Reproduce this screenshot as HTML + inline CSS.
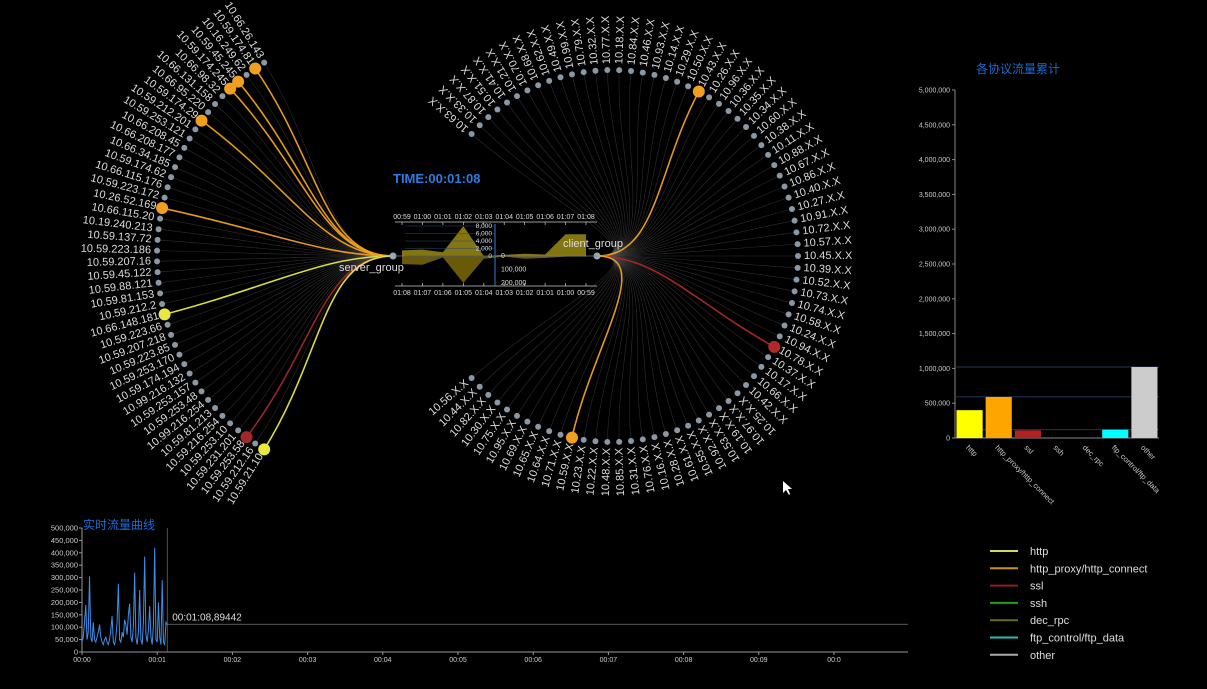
<!DOCTYPE html>
<html><head><meta charset="utf-8"><style>
html,body{margin:0;padding:0;background:#000;}
svg{display:block;font-family:"Liberation Sans","Noto Sans CJK SC",sans-serif;}
</style></head><body>
<svg id="s" width="1207" height="689" viewBox="0 0 1207 689">
<rect width="1207" height="689" fill="#000"/>
<g id="links"></g>
<g id="hl"></g>
<g id="rings"></g>
<g id="mini"></g>
<text x="393" y="183" fill="#2a7de1" font-size="13" font-weight="bold">TIME:00:01:08</text>
<text x="339" y="271" fill="#ddd" font-size="11">server_group</text>
<text x="563" y="247" fill="#ddd" font-size="11">client_group</text>
<g id="bar"></g>
<text x="976" y="73" fill="#1a6ad4" font-size="12">各协议流量累计</text>
<g id="line"></g>
<text x="83" y="529" fill="#1a6ad4" font-size="12">实时流量曲线</text>
<g id="legend"></g>
<polygon points="783,481 783,493 786,490 789,495 790,494 788,489 792,489" fill="#fff"/>
</svg>
<script>
// ---- data ----
const leftHosts=["10.66.26.143","10.59.174.81","10.16.249.62","10.59.45.245","10.59.174.245","10.66.98.32","10.66.131.158","10.66.95.220","10.59.174.29","10.59.212.201","10.59.253.121","10.66.208.45","10.66.208.177","10.66.34.185","10.59.174.62","10.66.115.176","10.59.223.172","10.26.52.169","10.66.115.20","10.19.240.213","10.59.137.72","10.59.223.186","10.59.207.16","10.59.45.122","10.59.88.121","10.59.81.153","10.59.212.2","10.66.148.181","10.59.223.66","10.59.207.218","10.59.223.85","10.59.253.170","10.59.174.194","10.99.216.132","10.59.253.157","10.59.253.48","10.99.216.254","10.59.81.213","10.59.216.254","10.59.253.10","10.59.231.201","10.59.253.58","10.59.212.16","10.59.21.10"];
const rightNums=[63,33,87,51,41,21,70,68,62,49,99,79,32,77,18,84,46,93,14,29,50,43,26,96,36,35,34,60,38,11,88,67,86,40,27,91,72,57,45,39,52,73,74,58,24,94,78,37,17,66,42,25,97,19,53,92,55,61,28,16,76,31,85,48,22,23,59,71,64,65,69,95,75,30,82,44,56];
const leftActive={1:"#f0a020",3:"#f0a020",4:"#f0a020",8:"#f0a020",17:"#f0a020",27:"#e8e840",41:"#a02828",43:"#e8e840"};
const rightActive={21:"#f0a020",46:"#b02828",66:"#f0a020"};
const protocols=["http","http_proxy/http_connect","ssl","ssh","dec_rpc","ftp_control/ftp_data","other"];
const totals=[400000,590000,110000,0,0,120000,1020000];
const barColors=["#ffff00","#ffa500","#b22222","#22aa22","#808020","#00ffff","#cccccc"];
const barTicks=[0,500000,1000000,1500000,2000000,2500000,3000000,3500000,4000000,4500000,5000000];
const legendColors=["#d8d860","#c8902a","#8b2020","#20a020","#6b6b20","#20c0c0","#aaaaaa"];
const traffic=[40,60,120,190,50,80,305,60,40,120,50,40,60,80,110,60,40,30,50,60,40,30,50,90,145,40,30,60,120,275,50,40,80,60,130,110,70,150,195,60,40,100,320,60,30,80,250,50,30,120,385,70,40,90,185,60,30,110,420,50,40,200,60,30,290,40,30,120,110];
const lineYTicks=[0,50000,100000,150000,200000,250000,300000,350000,400000,450000,500000];
const lineXTicks=["00:00","00:01","00:02","00:03","00:04","00:05","00:06","00:07","00:08","00:09","00:0"];
const miniTimesTop=["00:59","01:00","01:01","01:02","01:03","01:04","01:05","01:06","01:07","01:08"];
const miniTimesBottom=["01:08","01:07","01:06","01:05","01:04","01:03","01:02","01:01","01:00","00:59"];
const miniUp=[1500,1700,1000,8000,0,300,600,400,5800,5800];
const miniDown=[60000,65000,10000,200000,20000,5000,20000,15000,5000,5000];
const miniUpTicks=[0,2000,4000,6000,8000];
const miniDownTicks=[100000,200000];

const NS="http://www.w3.org/2000/svg";
function mk(tag,attrs,parent){const e=document.createElementNS(NS,tag);for(const k in attrs)e.setAttribute(k,attrs[k]);parent.appendChild(e);return e;}
const links=document.getElementById('links'),hl=document.getElementById('hl'),rings=document.getElementById('rings');
const rad=d=>d*Math.PI/180;

// left ring
const L={cx:385,cy:256,r:228,a0:238,a1:122,nx:393,ny:256};
leftHosts.forEach((h,i)=>{
  const th=L.a0+(L.a1-L.a0)*i/(leftHosts.length-1);
  const c=Math.cos(rad(th)),s=Math.sin(rad(th));
  const x=L.cx+L.r*c,y=L.cy+L.r*s;
  const c2x=L.cx+L.r*0.5*c,c2y=L.cy+L.r*0.5*s;
  const col=leftActive[i];
  const p=mk('path',{d:`M${L.nx},${L.ny} C${L.nx-70},${L.ny} ${c2x},${c2y} ${x},${y}`,fill:'none',stroke:col||'#5a5a5a','stroke-width':col?1.6:0.6,'stroke-opacity':col?0.95:0.5},col?hl:links);
  
  
  const d=mk('circle',{cx:x,cy:y,r:col?6:3,fill:col||'#8a98a6'},rings);
  
  
  const lx=L.cx+(L.r+6)*c,ly=L.cy+(L.r+6)*s;
  const t=mk('text',{x:lx,y:ly,'text-anchor':'end','dominant-baseline':'middle',fill:'#dddddd','font-size':11,transform:`rotate(${th-180},${lx},${ly})`},rings);
  t.textContent=h;
  
  
});
// right ring
const R={cx:612,cy:256,r:186,a0:-139,a1:139,nx:597,ny:256};
rightNums.forEach((n,i)=>{
  const th=R.a0+(R.a1-R.a0)*i/(rightNums.length-1);
  const c=Math.cos(rad(th)),s=Math.sin(rad(th));
  const x=R.cx+R.r*c,y=R.cy+R.r*s;
  const c2x=R.cx+R.r*0.5*c,c2y=R.cy+R.r*0.5*s;
  const col=rightActive[i];
  const p=mk('path',{d:`M${R.nx},${R.ny} C${R.nx+60},${R.ny} ${c2x},${c2y} ${x},${y}`,fill:'none',stroke:col||'#5a5a5a','stroke-width':col?1.6:0.6,'stroke-opacity':col?0.95:0.5},col?hl:links);
  
  
  const d=mk('circle',{cx:x,cy:y,r:col?6:3,fill:col||'#8a98a6'},rings);
  
  
  const lx=R.cx+(R.r+6)*c,ly=R.cy+(R.r+6)*s;
  const flip=th>45;
  const t=mk('text',{x:lx,y:ly,'text-anchor':flip?'end':'start','dominant-baseline':'middle',fill:'#dddddd','font-size':11,transform:`rotate(${flip?th-180:th},${lx},${ly})`},rings);
  t.textContent="10."+n+".X.X";
  
  
});
// group nodes
[[L.nx,L.ny,'server-group-node'],[R.nx,R.ny,'client-group-node']].forEach(g=>{
  const c=mk('circle',{cx:g[0],cy:g[1],r:3.5,fill:'#9aa8b4'},rings);
  
  
});

// mini chart
const mini=document.getElementById('mini');
const mx0=402,mx1=586,ax=495,zero=256;
const mX=i=>mx0+(mx1-mx0)*i/(miniTimesTop.length-1);
const yUp=v=>zero-v/8000*30;
const yDn=v=>zero+v/200000*27;
let up=`M${mX(0)},${zero}`;miniUp.forEach((v,i)=>up+=` L${mX(i)},${yUp(v)}`);up+=` L${mX(miniUp.length-1)},${zero}Z`;
const ua=mk('path',{d:up,fill:'#9a8a14','fill-opacity':0.85},mini);


let dn=`M${mX(0)},${zero}`;miniDown.forEach((v,i)=>dn+=` L${mX(i)},${yDn(v)}`);dn+=` L${mX(miniDown.length-1)},${zero}Z`;
const da=mk('path',{d:dn,fill:'#7a6a08','fill-opacity':0.85},mini);


mk('line',{x1:395,x2:597,y1:zero,y2:zero,stroke:'#778',"stroke-width":0.7},mini);
[[222,miniTimesTop,-3,'mini-top-axis'],[286,miniTimesBottom,9,'mini-bottom-axis']].forEach(a=>{
  const ln=mk('line',{x1:395,x2:597,y1:a[0],y2:a[0],stroke:'#ccc','stroke-width':0.8},mini);
  
  
  a[1].forEach((lab,i)=>{
    mk('line',{x1:mX(i),x2:mX(i),y1:a[0],y2:a[0]+(a[2]<0?3:-3),stroke:'#ccc','stroke-width':0.7},mini);
    const t=mk('text',{x:mX(i),y:a[0]+a[2],'text-anchor':'middle',fill:'#ddd','font-size':7},mini);
    t.textContent=lab;
    
    
  });
});
mk('line',{x1:ax,x2:ax,y1:224,y2:286,stroke:'#3a7ad8','stroke-width':1},mini);
miniUpTicks.forEach(v=>{
  mk('line',{x1:405,x2:ax,y1:yUp(v),y2:yUp(v),stroke:'#2a4a7a','stroke-width':0.5},mini);
  const t=mk('text',{x:ax-3,y:yUp(v)+2,'text-anchor':'end',fill:'#ddd','font-size':6.5},mini);
  t.textContent=v.toLocaleString('en-US');
  
  
});
miniDownTicks.forEach(v=>{
  const t=mk('text',{x:ax+6,y:yDn(v)+2,fill:'#ddd','font-size':7},mini);
  t.textContent=v.toLocaleString('en-US');
  
  
});
const z=mk('text',{x:ax+6,y:zero+2,fill:'#ddd','font-size':7},mini);z.textContent='0';

// bar chart
const bar=document.getElementById('bar');
const bx0=955,bx1=1159,by0=438,by1=90,band=(bx1-bx0)/protocols.length;
const bY=v=>by0-v/5000000*(by0-by1);
mk('line',{x1:bx0,x2:bx0,y1:by1,y2:by0,stroke:'#888'},bar);
mk('line',{x1:bx0,x2:bx1,y1:by0,y2:by0,stroke:'#888'},bar);
barTicks.forEach(v=>{
  mk('line',{x1:bx0-3,x2:bx0,y1:bY(v),y2:bY(v),stroke:'#888'},bar);
  const t=mk('text',{x:bx0-5,y:bY(v)+2.5,'text-anchor':'end',fill:'#ccc','font-size':7},bar);
  t.textContent=v.toLocaleString('en-US');
  
  
});
[totals[6],totals[1],totals[5]].forEach(v=>{
  const g=mk('line',{x1:bx0,x2:bx1,y1:bY(v),y2:bY(v),stroke:'#23355a','stroke-width':1},bar);
  
  
});
protocols.forEach((p,i)=>{
  const x=bx0+i*band+1.5;
  const r=mk('rect',{x:x,y:bY(totals[i]),width:band-3,height:by0-bY(totals[i]),fill:barColors[i]},bar);
  
  
  const cx=bx0+i*band+band/2;
  const t=mk('text',{x:cx-4,y:by0+10,fill:'#ccc','font-size':7.5,transform:`rotate(45,${cx-4},${by0+10})`},bar);
  t.textContent=p;
  
  
});

// line chart
const line=document.getElementById('line');
const lx0=82,ly0=652,ly1=528,perMin=75.2;
const lX=s=>lx0+s/60*perMin;
const lY=v=>ly0-v/500000*(ly0-ly1);
mk('line',{x1:lx0,x2:lx0,y1:ly1,y2:ly0,stroke:'#999'},line);
mk('line',{x1:lx0,x2:908,y1:ly0,y2:ly0,stroke:'#999'},line);
lineYTicks.forEach(v=>{
  mk('line',{x1:lx0-3,x2:lx0,y1:lY(v),y2:lY(v),stroke:'#999'},line);
  const t=mk('text',{x:lx0-4,y:lY(v)+2.5,'text-anchor':'end',fill:'#ccc','font-size':7.5},line);
  t.textContent=v.toLocaleString('en-US');
  
  
});
lineXTicks.forEach((lab,i)=>{
  const x=lX(i*60);
  mk('line',{x1:x,x2:x,y1:ly0,y2:ly0+3,stroke:'#999'},line);
  const t=mk('text',{x:x,y:ly0+10,'text-anchor':'middle',fill:'#ccc','font-size':7},line);
  t.textContent=lab;
  
  
});
let ld='';traffic.forEach((v,i)=>ld+=(i?' L':'M')+lX(i)+','+lY(v*1000));
const tl=mk('path',{d:ld,fill:'none',stroke:'#3d8ee8','stroke-width':1},line);


const lastS=traffic.length-1,lastV=89442;
mk('line',{x1:lX(lastS),x2:lX(lastS),y1:ly1,y2:ly0,stroke:'#777','stroke-width':0.7},line);
const hz=mk('line',{x1:lX(lastS),x2:908,y1:lY(lastV*1.25),y2:lY(lastV*1.25),stroke:'#777','stroke-width':0.7},line);


const cl=mk('text',{x:lX(lastS)+5,y:lY(lastV*1.25)-4,fill:'#ddd','font-size':10},line);
cl.textContent='00:01:08,'+lastV;



// legend
const leg=document.getElementById('legend');
protocols.forEach((p,i)=>{
  const y=551+i*17.3;
  const l=mk('line',{x1:990,x2:1018,y1:y,y2:y,stroke:legendColors[i],'stroke-width':2},leg);
  
  
  const t=mk('text',{x:1030,y:y+4,fill:'#ddd','font-size':11},leg);
  t.textContent=p;
  
  
});
</script>
</body></html>
